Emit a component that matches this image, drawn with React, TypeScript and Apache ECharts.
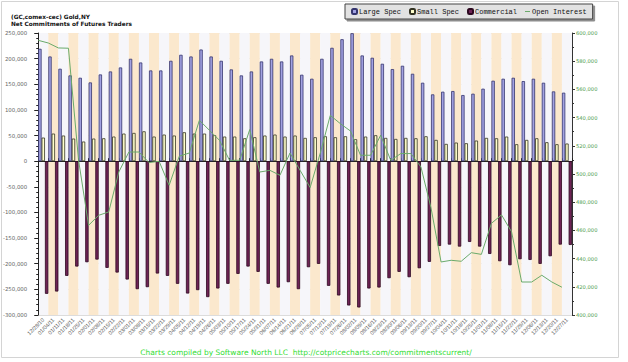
import React, { useEffect, useRef } from "react";
import * as echarts from "echarts";

const dates = [
  "12/28/10", "01/04/11", "01/11/11", "01/18/11", "01/25/11", "02/01/11", "02/08/11", "02/15/11", "02/22/11",
  "03/01/11", "03/08/11", "03/15/11", "03/22/11", "03/29/11", "04/05/11", "04/12/11", "04/19/11", "04/26/11",
  "05/03/11", "05/10/11", "05/17/11", "05/24/11", "05/31/11", "06/07/11", "06/14/11", "06/21/11", "06/28/11",
  "07/05/11", "07/12/11", "07/19/11", "07/26/11", "08/02/11", "08/09/11", "08/16/11", "08/23/11", "08/30/11",
  "09/06/11", "09/13/11", "09/20/11", "09/27/11", "10/04/11", "10/11/11", "10/18/11", "10/25/11", "11/01/11",
  "11/08/11", "11/15/11", "11/22/11", "11/29/11", "12/06/11", "12/13/11", "12/20/11", "12/27/11",
];

const largeSpec = [
  219200, 204200, 180300, 167300, 162700, 153600, 169200, 175000, 182800, 199700,
  192500, 177000, 177000, 195800, 207500, 204200, 217800, 204200, 195800, 179000,
  167300, 175000, 194500, 199700, 194500, 206200, 168600, 160800, 199700, 221100,
  237900, 249600, 206200, 201700, 190000, 179600, 186100, 170500, 153000, 130300,
  135500, 136800, 129000, 131600, 141400, 156900, 160800, 162700, 156200, 160800,
  153000, 136100, 133600,
];

const smallSpec = [
  46000, 53800, 50000, 44100, 38300, 44100, 44700, 48000, 53800, 55100,
  58300, 48000, 51900, 50000, 56400, 53800, 53800, 50600, 48000, 48000,
  44700, 46700, 50000, 51900, 48000, 50000, 45400, 46700, 48600, 46700,
  48600, 42800, 48000, 50600, 45400, 43400, 45400, 44700, 48600, 41500,
  33700, 36300, 35000, 40200, 45400, 44700, 48000, 33100, 41500, 44700,
  37000, 33100, 34400,
];

const commercial = [
  -258700, -254200, -223700, -205500, -197100, -191900, -208100, -217200, -230800, -249600,
  -245700, -219100, -223700, -239200, -258100, -251500, -265100, -248300, -239200, -219800,
  -205500, -215900, -239200, -246400, -236000, -249600, -206800, -200300, -243100, -261900,
  -281400, -285300, -248300, -246400, -228200, -215900, -226300, -208800, -196400, -165300,
  -162700, -166600, -157500, -166600, -180900, -195100, -202900, -191200, -192600, -200300,
  -185400, -162700, -163400,
];

const openInterest = [
  594800, 592900, 589400, 589200, 510000, 463600, 470700, 473100, 501400, 515600,
  515600, 508100, 509000, 492000, 512600, 514900, 538100, 531000, 523900, 509700,
  509700, 531500, 501400, 502600, 499100, 514900, 502600, 490400, 514700, 541600,
  535700, 530500, 513300, 513300, 527500, 509700, 514500, 514500, 505000, 476000,
  437600, 438800, 438100, 444200, 443000, 465000, 471000, 459000, 423400, 423400,
  428200, 423400, 419700,
];

const leftTicks = { min: -300000, max: 250000, interval: 50000 };
const rightTicks = { min: 400000, max: 600000, interval: 20000 };

const titleLines = ["(GC,comex-cec) Gold,NY", "Net Commitments of Futures Traders"];
const footerText = "Charts compiled by Software North LLC  http://cotpricecharts.com/commitmentscurrent/";

export default function App() {
  const ref = useRef<HTMLDivElement>(null);

  useEffect(() => {
    document.body.style.margin = "0";
    if (!ref.current) return;
    const chart = echarts.init(ref.current, undefined, { renderer: "svg" });
    const option: any = {
      animation: false,
      backgroundColor: "#ffffff",
      title: {
        text: titleLines.join("\n"),
        left: 6,
        top: 8,
        textStyle: {
          fontFamily: "DejaVu Sans",
          fontSize: 5.8,
          fontWeight: "bold",
          lineHeight: 7,
          color: "#111111",
        },
      },
      legend: {
        left: 345,
        top: 4,
        padding: [4, 6, 4, 6],
        itemWidth: 5,
        itemHeight: 5,
        itemGap: 8,
        backgroundColor: "#e2e2e2",
        borderColor: "#444444",
        borderWidth: 1,
        shadowColor: "rgba(0,0,0,0.45)",
        shadowOffsetX: 2,
        shadowOffsetY: 2,
        shadowBlur: 0,
        textStyle: {
          fontFamily: "Liberation Mono",
          fontSize: 7,
          color: "#111111",
          padding: [0, 0, 0, -3],
        },
        data: [
          { name: "Large Spec" },
          { name: "Small Spec" },
          { name: "Commercial" },
          {
            name: "Open Interest",
            icon: "path://M0,4H10V6H0Z",
            itemStyle: { color: "#6aaa6a", borderWidth: 0 },
          },
        ],
      },
      grid: { left: 38, top: 33, width: 534, height: 282, containLabel: false },
      xAxis: [
        {
          type: "category",
          data: dates,
          boundaryGap: true,
          axisLine: { show: true, lineStyle: { color: "#222222", width: 1 } },
          axisTick: { show: true, inside: true, length: 3, interval: 0, lineStyle: { color: "#222222" } },
          axisLabel: {
            interval: 0,
            rotate: 45,
            fontSize: 5.5,
            fontFamily: "Liberation Sans",
            color: "#555555",
            margin: 4,
          },
          splitLine: { show: false },
          splitArea: { show: true, interval: 0, areaStyle: { color: ["#f6f6fa", "#fbe8cd"] } },
        },
        {
          type: "value",
          min: 0,
          max: dates.length,
          show: false,
        },
      ],
      yAxis: [
        {
          type: "value",
          min: leftTicks.min,
          max: leftTicks.max,
          interval: leftTicks.interval,
          axisLine: { show: true, lineStyle: { color: "#222222", width: 1 } },
          axisTick: { show: true, length: 4, lineStyle: { color: "#222222" } },
          minorTick: { show: true, splitNumber: 5, length: 2, lineStyle: { color: "#222222" } },
          axisLabel: { fontSize: 5.4, fontFamily: "DejaVu Sans", color: "#666666", margin: 11 },
          splitLine: { show: true, lineStyle: { color: "#dcdcdc", width: 1 } },
        },
        {
          type: "value",
          min: rightTicks.min,
          max: rightTicks.max,
          interval: rightTicks.interval,
          position: "right",
          axisLine: { show: true, lineStyle: { color: "#333333", width: 1 } },
          axisTick: { show: true, length: 3, lineStyle: { color: "#333333" } },
          minorTick: { show: true, splitNumber: 2, length: 2, lineStyle: { color: "#333333" } },
          axisLabel: { fontSize: 5.2, fontFamily: "DejaVu Sans", color: "#4a9a4a", margin: 4 },
          splitLine: { show: false },
        },
      ],
      series: [
        {
          name: "Large Spec",
          type: "bar",
          data: largeSpec,
          barGap: "0%",
          barCategoryGap: "0%",
          itemStyle: { color: "#a2a2e2", borderColor: "#35356e", borderWidth: 0.8 },
        },
        {
          name: "Small Spec",
          type: "bar",
          data: smallSpec,
          barGap: "0%",
          barCategoryGap: "0%",
          itemStyle: { color: "#ffffcc", borderColor: "#333322", borderWidth: 0.8 },
        },
        {
          name: "Commercial",
          type: "bar",
          data: commercial,
          barGap: "0%",
          barCategoryGap: "0%",
          itemStyle: { color: "#6e2355", borderColor: "#2c0820", borderWidth: 0.8 },
        },
        {
          name: "Open Interest",
          type: "line",
          xAxisIndex: 1,
          yAxisIndex: 1,
          data: openInterest.map((v, i) => [i, v]),
          symbol: "none",
          lineStyle: { color: "#6aaa6a", width: 1 },
          itemStyle: { color: "#6aaa6a" },
          z: 5,
        },
      ],
      graphic: [
        {
          type: "rect",
          shape: { x: 1.5, y: 1.5, width: 617, height: 356 },
          style: { fill: "none", stroke: "#d4d4d4", lineWidth: 1 },
          silent: true,
        },
        {
          type: "text",
          x: 306,
          y: 352,
          style: {
            text: footerText,
            fill: "#33dd33",
            font: "7.5px 'DejaVu Sans'",
            textAlign: "center",
            textVerticalAlign: "middle",
          },
        },
      ],
    };
    chart.setOption(option);
    return () => chart.dispose();
  }, []);

  return <div ref={ref} style={{ width: 628, height: 362 }} />;
}
